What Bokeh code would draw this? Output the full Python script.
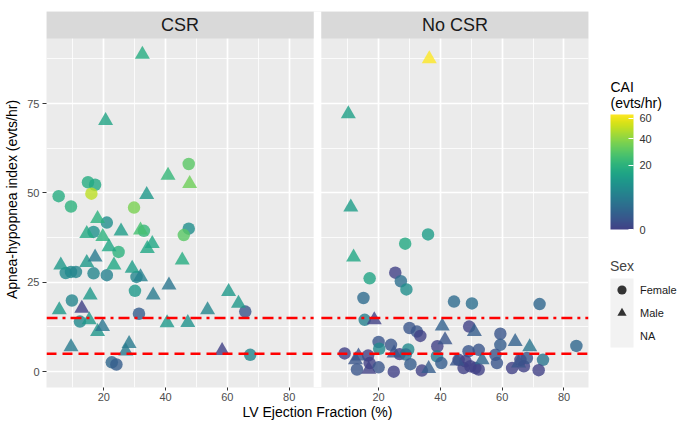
import numpy as np
from bokeh.plotting import figure
from bokeh.models import (ColumnDataSource, Range1d, FixedTicker, CustomJSTickFormatter,
                          BoxAnnotation, Label, LinearColorMapper, ColorBar, Legend, LegendItem)
from bokeh.layouts import row
from bokeh.palettes import Viridis256
from bokeh.transform import dodge
from bokeh.embed import file_html
from bokeh.resources import INLINE

# ---------------- data ----------------
panels = ["CSR", "No CSR"]

csr_ef = [32.5, 20.6, 47.5, 40.8, 47.8, 14.9, 17.2, 16.0, 5.4, 33.9, 9.4, 29.8, 18.0, 21.0, 14.5, 16.7,
          19.7, 25.6, 31.9, 33.0, 47.5, 45.9, 21.7, 24.8, 34.1, 35.7, 45.4, 6.1, 14.5, 17.2, 23.3, 7.7,
          9.4, 11.0, 16.7, 21.0, 29.2, 30.6, 31.9, 15.6, 30.1, 36.0, 41.1, 60.4, 63.6, 65.8, 53.6, 9.7,
          5.6, 12.9, 31.4, 12.3, 15.3, 18.0, 19.6, 40.5, 47.2, 9.4, 28.2, 27.1, 22.6, 24.1, 58.3, 67.4]
csr_ahi = [88.8, 70.2, 58.1, 54.9, 52.6, 53.0, 52.3, 49.8, 49.1, 49.5, 46.2, 45.9, 42.8, 41.7, 38.6, 39.1,
           37.8, 39.3, 39.6, 39.4, 40.0, 38.2, 34.9, 33.5, 34.4, 35.8, 31.2, 29.8, 30.5, 32.0, 29.8, 27.6,
           27.9, 27.9, 27.5, 27.0, 28.9, 26.5, 26.5, 21.4, 22.6, 21.4, 24.2, 22.4, 19.1, 16.8, 17.3, 19.9,
           17.3, 17.7, 16.2, 14.0, 14.5, 11.2, 12.6, 13.6, 13.7, 6.9, 7.8, 5.7, 2.6, 2.0, 5.9, 4.7]
csr_cai = [18, 15, 30, 22, 34, 18, 17, 49, 18, 12, 20, 36, 20, 9, 17, 10,
           20, 13, 26, 22, 9, 30, 16, 20, 16, 16, 18, 12, 12, 5, 16, 8,
           8, 7, 7, 6, 13, 7, 6, 12, 12, 5, 4, 12, 12, 0.5, 7, 7,
           12, 0, 1, 8, 12, 11, 4, 12, 10, 5, 5, 5, 2, 1, 0, 7]
csr_sex = ["Male", "Male", "Female", "Male", "Male", "Female", "Female", "Female", "Female", "Male",
           "Female", "Female", "Male", "Female", "Male", "Female", "Male", "Male", "Male", "Female",
           "Female", "Female", "Male", "Female", "Male", "Male", "Male", "Male", "Male", "Male",
           "Male", "Female", "Female", "Female", "Female", "Female", "Male", "Female", "Male", "Male",
           "Female", "Male", "Male", "Male", "Male", "Female", "Male", "Female", "Male", "Male",
           "Female", "Female", "Male", "Male", "Male", "Male", "Male", "Male", "Male", "Male",
           "Female", "Female", "Male", "Female"]

nocsr_ef = [36.4, 10.2, 11.0, 11.9, 36.0, 28.6, 17.1, 25.4, 27.2, 29.0, 15.1, 44.4, 50.2, 72.1, 15.5, 18.6,
            30.0, 32.4, 33.5, 40.6, 49.3, 51.0, 41.5, 39.0, 20.0, 20.2, 24.0, 25.0, 26.8, 29.6, 28.8, 9.0,
            12.5, 13.5, 16.6, 17.1, 13.0, 16.8, 20.0, 24.9, 30.3, 34.0, 36.2, 38.9, 40.3, 59.4, 59.4, 64.2,
            68.9, 84.0, 73.2, 71.8, 65.9, 67.0, 63.2, 68.0, 65.3, 57.8, 58.3, 45.9, 49.1, 52.4, 49.7, 47.5,
            51.3, 52.4, 48.1, 45.4, 53.5]
nocsr_ahi = [87.5, 72.1, 46.0, 32.0, 38.4, 35.8, 26.1, 27.7, 25.3, 23.0, 20.6, 19.6, 19.1, 18.9, 14.5, 14.5,
             12.2, 11.2, 10.0, 12.7, 12.6, 11.2, 8.9, 7.1, 8.3, 6.4, 7.5, 5.2, 4.9, 6.2, 4.8, 5.1,
             3.3, 4.3, 4.5, 2.4, 0.6, 0.6, 1.2, 0.0, 2.1, 0.3, 0.8, 4.3, 2.4, 10.6, 7.5, 8.4,
             6.9, 7.2, 3.3, 0.4, 3.3, 1.5, 1.0, 3.8, 2.4, 4.7, 2.4, 3.3, 5.7, 6.1, 1.5, 1.0,
             1.0, 0.6, 2.9, 2.9, 3.3]
nocsr_cai = [64, 14, 13, 16, 13, 17, 15, 0, 3, 9, 2.5, 2.5, 3, 2, 6, 0,
             0.5, 0.5, 0, 1.5, 0, 1, 0.5, 0, 0.5, 8, 0.5, 0.5, 0, 8, 3, 0,
             0.5, 0.5, 0, 0, 0.5, 0, 0.5, 0, 1, 0, 1, 5, 1, 0.5, 1, 1.5,
             4, 2, 4, 0, 0, 0, 0, 0.5, 0.5, 0.5, 0.5, 0, 0.5, 0.5, 0, 0,
             0, 0, 0, 0.5, 2]
nocsr_sex = ["Male", "Male", "Male", "Male", "Female", "Female", "Female", "Female", "Female", "Female",
             "Female", "Female", "Female", "Female", "Female", "Male", "Female", "Female", "Female", "Male",
             "Female", "Male", "Male", "Female", "Female", "Female", "Female", "Male", "Female", "Female",
             "Female", "Female", "Male", "Male", "Female", "Female", "Female", "Male", "Female", "Female",
             "Female", "Female", "Male", "Female", "Female", "Female", "Female", "Male", "Male", "Female",
             "Female", "Female", "Female", "Female", "Female", "Female", "Male", "Female", "Female", "Female",
             "Female", "Female", "Female", "Female", "Female", "Female", "Female", "Male", "Male"]

thresholds = [5, 15]
x_ticks = [20, 40, 60, 80]
x_minor = [10, 30, 50, 70]
y_ticks = [0, 25, 50, 75]
y_minor = [12.5, 37.5, 62.5, 87.5]
cai_ticks = [0, 20, 40, 60]
sex_levels = ["Female", "Male", "NA"]

# ---------------- styles / layout ----------------
FONT = "Liberation Sans"
PANEL_BG = "#EBEBEB"
STRIP_BG = "#D9D9D9"
H = 423
W_MAIN = 590
W_LEG = 89
BL, BR, BT, BB = 46, 2, 11, 36        # borders of the main figure
FRAME_W = W_MAIN - BL - BR
GAP_PX = 7.7
PANEL_PX = (FRAME_W - GAP_PX) / 2
STRIP_PX = 27.0
PANEL_H_PX = 350.0
palette = Viridis256[49:]
marker_of = {"Female": "circle", "Male": "triangle"}
size_of = {"Female": 12.5, "Male": 15}

# ---------------- scales ----------------
all_x = np.array(csr_ef + nocsr_ef)
all_y = np.array(csr_ahi + nocsr_ahi)
wx = all_x.max() - all_x.min()
xlo, xhi = all_x.min() - 0.05 * wx, all_x.max() + 0.05 * wx
pw = xhi - xlo
S = pw * (1 + GAP_PX / PANEL_PX)          # offset of the second panel
wy = all_y.max() - all_y.min()
ylo, yhi = all_y.min() - 0.05 * wy, all_y.max() + 0.05 * wy
ytop = yhi + (yhi - ylo) * STRIP_PX / PANEL_H_PX

all_cai = np.array(csr_cai + nocsr_cai, dtype=float)
mapper = LinearColorMapper(palette=palette, low=0, high=float(np.sqrt(all_cai.max())))

p = figure(width=W_MAIN, height=H, x_range=Range1d(xlo, xhi + S), y_range=Range1d(ylo, ytop),
           output_backend="svg", toolbar_location=None,
           min_border_left=BL, min_border_right=BR, min_border_top=BT, min_border_bottom=0,
           background_fill_color=PANEL_BG, border_fill_color="white", outline_line_color=None)

# white gap between the two panels
p.add_layout(BoxAnnotation(left=xhi, right=xlo + S, fill_color="white", fill_alpha=1,
                           line_color=None, level="image"))

# axes / grids
xt = FixedTicker(ticks=[t + k * S for k in (0, 1) for t in x_ticks],
                 minor_ticks=[t + k * S for k in (0, 1) for t in x_minor])
yt = FixedTicker(ticks=y_ticks, minor_ticks=y_minor)
p.xaxis.ticker = xt
p.yaxis.ticker = yt
p.xgrid.ticker = xt
p.ygrid.ticker = yt
p.xaxis.formatter = CustomJSTickFormatter(args=dict(s=S, hi=xhi),
                                          code="var v = tick > hi ? tick - s : tick; return Math.round(v).toString();")
for g in (p.xgrid, p.ygrid):
    g.grid_line_color = "white"
    g.grid_line_width = 1.7
    g.minor_grid_line_color = "white"
    g.minor_grid_line_width = 0.8
for ax in (p.xaxis, p.yaxis):
    ax.axis_line_color = None
    ax.minor_tick_line_color = None
    ax.major_tick_line_color = "#333333"
    ax.major_tick_in = 0
    ax.major_label_text_font = FONT
    ax.major_label_text_font_size = "11px"
    ax.major_label_text_color = "#4D4D4D"
    ax.axis_label_text_font = FONT
    ax.axis_label_text_font_size = "14px"
    ax.axis_label_text_font_style = "normal"
    ax.axis_label_text_color = "#000000"
p.xaxis.major_tick_out = 3
p.xaxis.major_label_standoff = 1
p.xaxis.axis_label_standoff = 0
p.yaxis.major_tick_out = 4
p.yaxis.major_label_standoff = 3
p.yaxis.axis_label_standoff = 4
p.xaxis.axis_label = "LV Ejection Fraction (%)"
p.yaxis.axis_label = "Apnea-hypopnea index (evts/hr)"

# points
panel_data = [(csr_ef, csr_ahi, csr_cai, csr_sex), (nocsr_ef, nocsr_ahi, nocsr_cai, nocsr_sex)]
for k, (ef, ahi, cai, sex) in enumerate(panel_data):
    ef = np.array(ef); ahi = np.array(ahi); cai = np.array(cai, dtype=float); sex = np.array(sex)
    for s in ["Female", "Male"]:
        m = sex == s
        src = ColumnDataSource(dict(ef=ef[m], ahi=ahi[m], cai_s=np.sqrt(cai[m])))
        p.scatter(x=dodge("ef", k * S), y="ahi", source=src, marker=marker_of[s], size=size_of[s],
                  fill_color={"field": "cai_s", "transform": mapper}, fill_alpha=0.8, line_color=None)

# threshold lines
dash_of = {5: "10 6", 15: "11 5 3 5"}
for t in thresholds:
    p.segment(x0=[xlo, xlo + S], x1=[xhi, xhi + S], y0=[t, t], y1=[t, t],
              line_color="#FF0000", line_width=2.6, line_dash=dash_of[t])

# strips
for k, name in enumerate(panels):
    p.add_layout(BoxAnnotation(left=xlo + k * S, right=xhi + k * S, bottom=yhi,
                               fill_color=STRIP_BG, fill_alpha=1, line_color=None))
    p.add_layout(Label(x=(xlo + xhi) / 2 + k * S, y=(yhi + ytop) / 2, text=name,
                       text_align="center", text_baseline="middle", text_font=FONT,
                       text_font_size="18px", text_color="#1A1A1A"))

# ---------------- legend figure (data units = page pixels) ----------------
FB = H - BB      # frame bottom in page pixels
lf = figure(width=W_LEG, height=H, x_range=Range1d(W_MAIN, W_MAIN + W_LEG), y_range=Range1d(FB, BT),
            x_axis_type=None, y_axis_type=None, output_backend="svg", toolbar_location=None,
            min_border_left=0, min_border_right=0, min_border_top=BT, min_border_bottom=BB,
            outline_line_color=None, background_fill_color="white", border_fill_color="white")
lf.grid.visible = False

KEY_X = 610
lf.add_layout(Label(x=KEY_X, y=86, text="CAI", text_font=FONT, text_font_size="14px",
                    text_baseline="middle", text_color="#000000"))
lf.add_layout(Label(x=KEY_X, y=102, text="(evts/hr)", text_font=FONT, text_font_size="14px",
                    text_baseline="middle", text_color="#000000"))

cb = ColorBar(color_mapper=mapper,
              ticker=FixedTicker(ticks=[float(np.sqrt(v)) for v in cai_ticks]),
              formatter=CustomJSTickFormatter(code="return Math.round(tick*tick).toString();"),
              width=23, height=115, padding=0, margin=0, location=(KEY_X - W_MAIN, FB - 229),
              major_label_text_font=FONT, major_label_text_font_size="11px",
              major_label_text_color="#333333", label_standoff=6,
              major_tick_line_color="white", major_tick_in=5, major_tick_out=0,
              bar_line_color=None, border_line_color=None, background_fill_alpha=0)
lf.add_layout(cb)

lf.add_layout(BoxAnnotation(left=KEY_X, right=KEY_X + 23, top=278, bottom=347, fill_color="#F2F2F2",
                            fill_alpha=1, line_color=None, level="underlay"))
leg_r = []
for s in sex_levels:
    # one NaN point: nothing is drawn in the plot, but the legend gets a marker to show
    src = ColumnDataSource(dict(x=[np.nan], y=[np.nan]))
    if s in marker_of:
        r = lf.scatter(x="x", y="y", source=src, marker=marker_of[s], fill_color="#333333",
                       line_color=None)
    else:
        r = lf.scatter(x="x", y="y", source=src, marker="circle", fill_alpha=0, line_alpha=0)
    leg_r.append(LegendItem(label=s, renderers=[r]))
legend = Legend(items=leg_r, location=(KEY_X - W_MAIN, FB - 347), title="Sex", title_text_font=FONT,
                title_text_font_size="14px", title_text_font_style="normal", title_standoff=4,
                label_text_font=FONT, label_text_font_size="11px", label_text_color="#1A1A1A",
                label_standoff=7, glyph_width=23, glyph_height=23, label_height=23,
                spacing=0, padding=0, margin=0, border_line_color=None, background_fill_alpha=0)
lf.add_layout(legend)

layout = row(p, lf)
open("out.html", "w").write(file_html(layout, INLINE))
